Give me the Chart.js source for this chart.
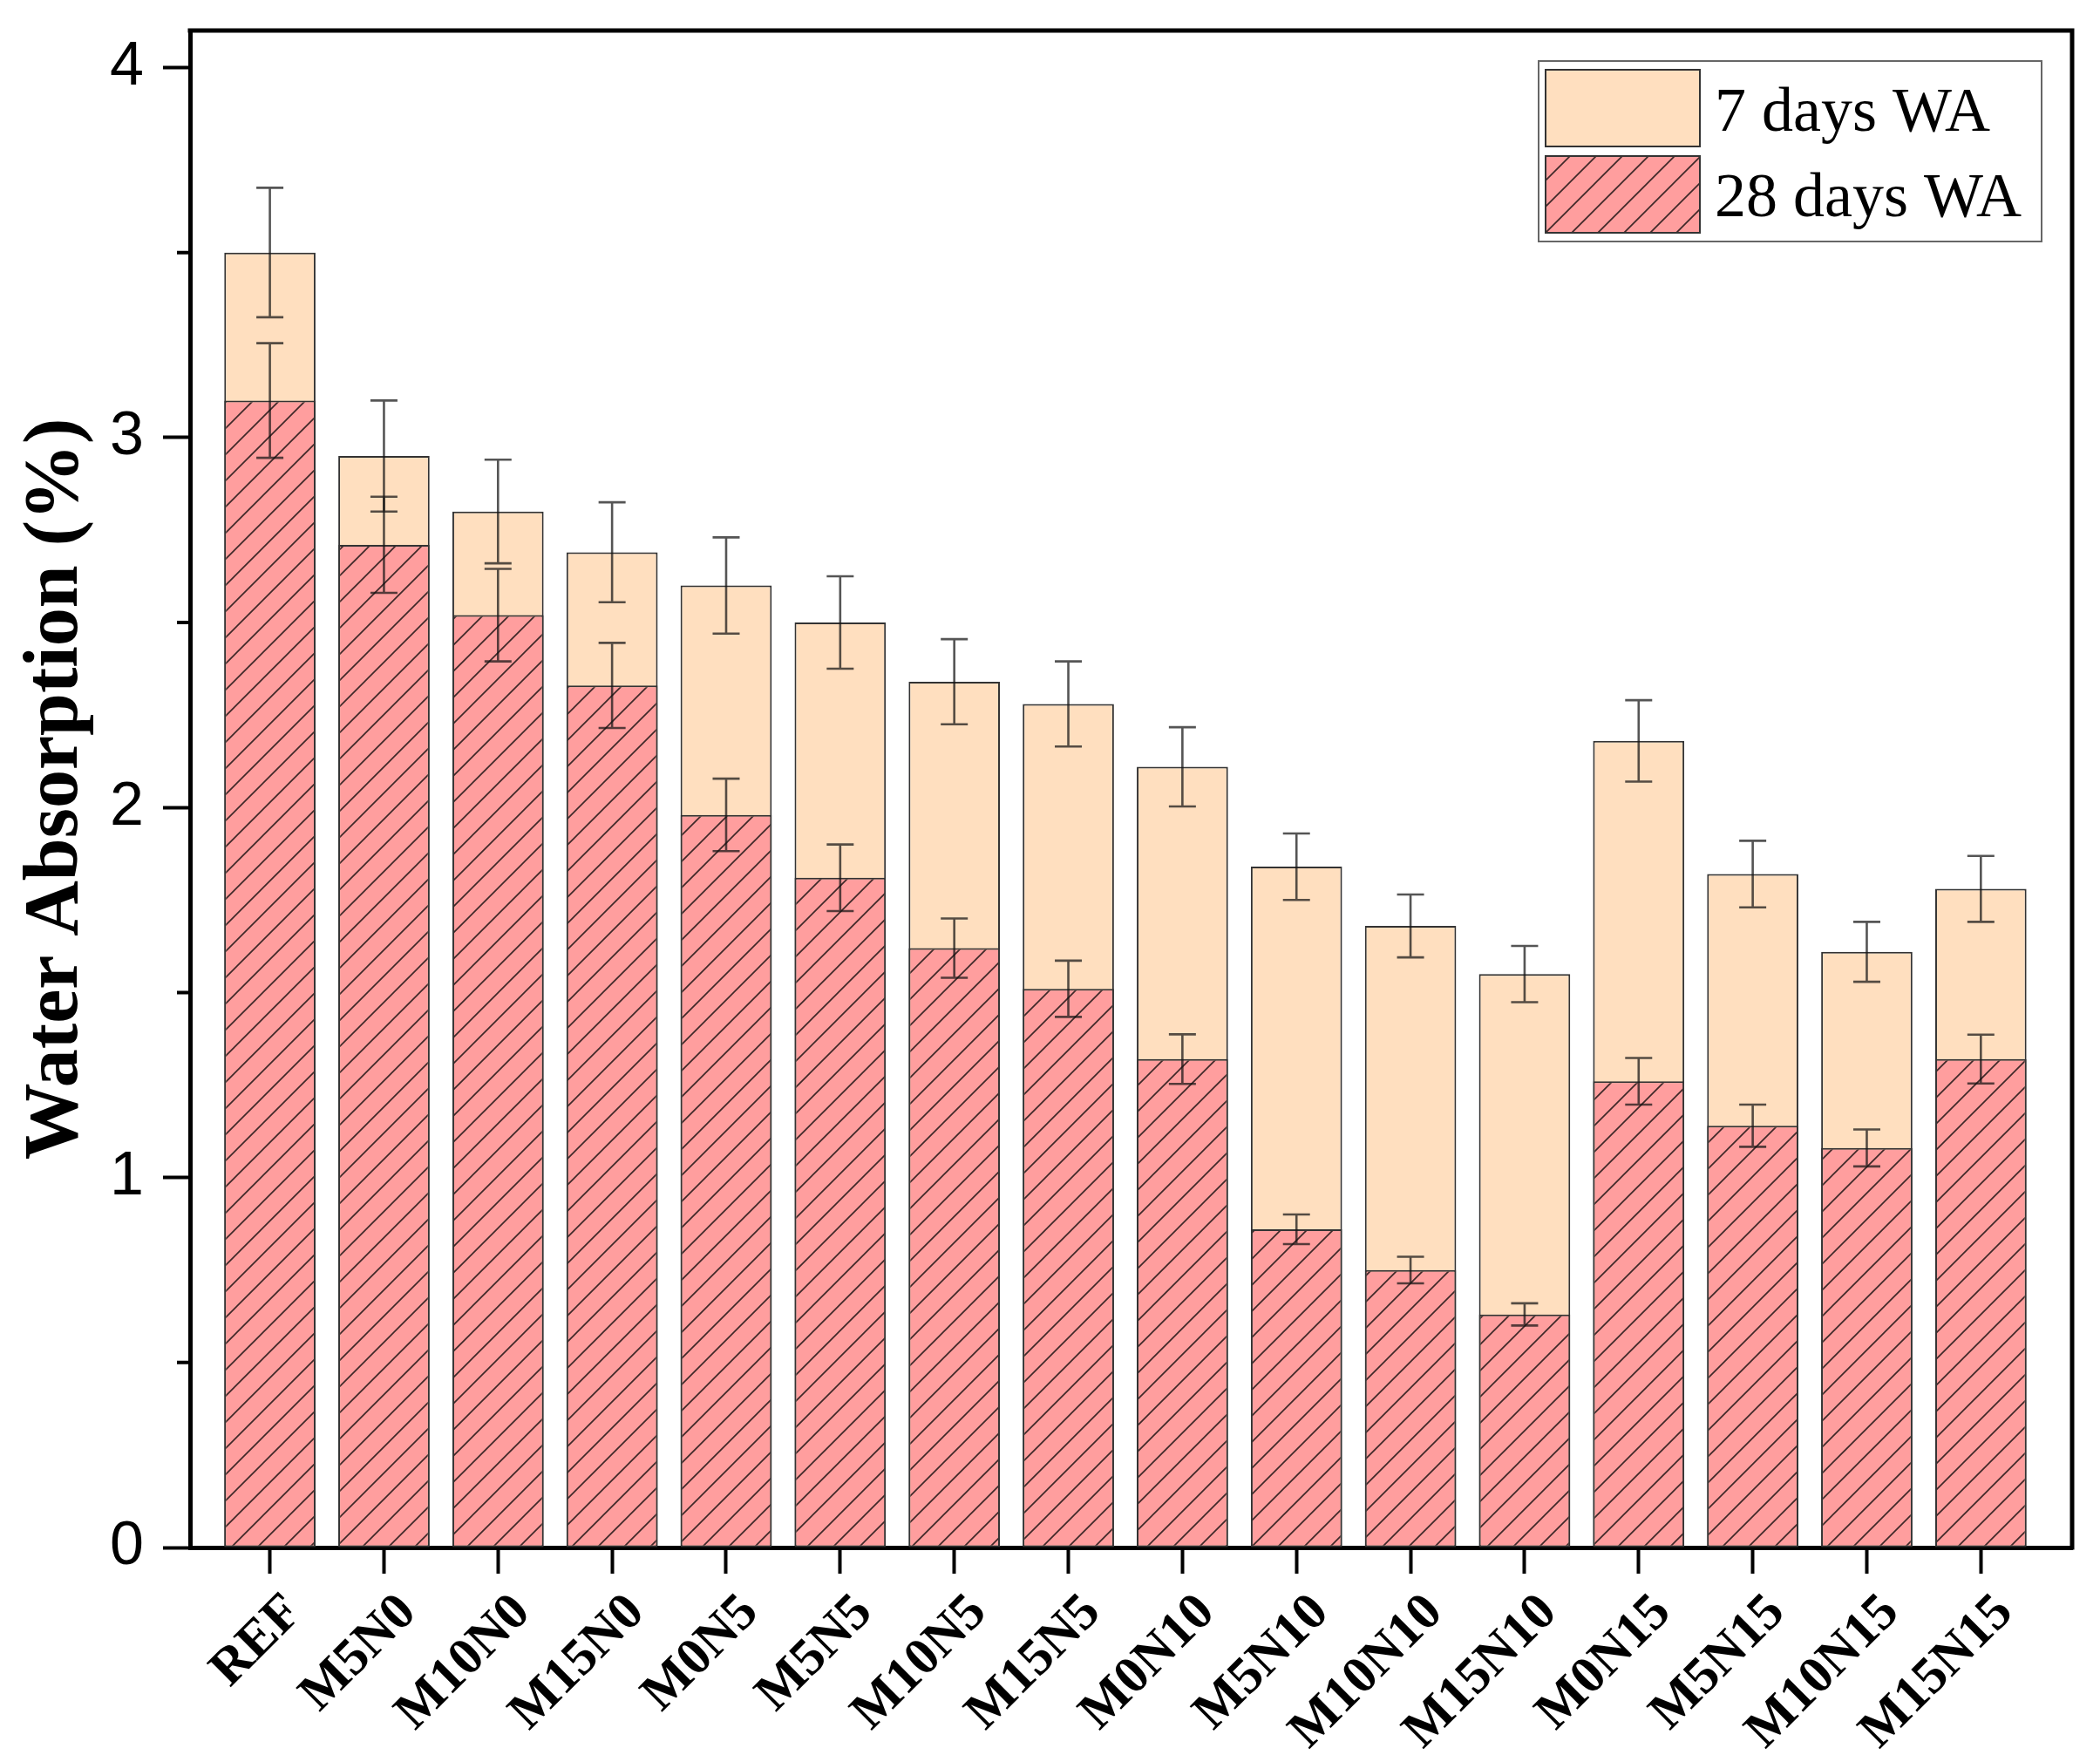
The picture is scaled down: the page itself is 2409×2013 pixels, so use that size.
<!DOCTYPE html>
<html>
<head>
<meta charset="utf-8">
<script src="https://cdn.jsdelivr.net/npm/chart.js@4.4.1/dist/chart.umd.min.js"></script>
<style>
  html, body { margin: 0; padding: 0; background: #ffffff; }
  #wrap { width: 2409px; height: 2013px; }
</style>
</head>
<body>
<div id="wrap"><canvas id="c" width="2409" height="2013"></canvas></div>
<script>
// ---- data ----
const categories = ['REF','M5N0','M10N0','M15N0','M0N5','M5N5','M10N5','M15N5','M0N10','M5N10','M10N10','M15N10','M0N15','M5N15','M10N15','M15N15'];
const wa7    = [3.50, 2.95, 2.80, 2.69, 2.60, 2.50, 2.34, 2.28, 2.11, 1.84, 1.68, 1.55, 2.18, 1.82, 1.61, 1.78];
const wa7Err = [0.175, 0.15, 0.14, 0.135, 0.13, 0.125, 0.115, 0.115, 0.107, 0.09, 0.085, 0.076, 0.11, 0.09, 0.081, 0.089];
const wa28    = [3.10, 2.71, 2.52, 2.33, 1.98, 1.81, 1.62, 1.51, 1.32, 0.86, 0.75, 0.63, 1.26, 1.14, 1.08, 1.32];
const wa28Err = [0.155, 0.13, 0.125, 0.115, 0.098, 0.09, 0.08, 0.076, 0.067, 0.04, 0.036, 0.03, 0.063, 0.057, 0.05, 0.066];
const yTickValues = [0, 1, 2, 3, 4];
const seriesLabels = ['7 days WA', '28 days WA'];
const axisTitle = 'Water Absorption (%)';

// ---- styles ----
const PEACH = '#FFDFBF';
const RED = '#FF9E9E';

function makeHatch() {
  const s = 30;
  const c = document.createElement('canvas');
  c.width = s; c.height = s;
  const g = c.getContext('2d');
  g.fillStyle = RED;
  g.fillRect(0, 0, s, s);
  g.strokeStyle = 'rgba(30,20,20,0.85)';
  g.lineWidth = 1.7;
  g.beginPath();
  g.moveTo(-2, s + 2); g.lineTo(s + 2, -2);
  g.moveTo(-2, 2); g.lineTo(2, -2);
  g.moveTo(s - 2, s + 2); g.lineTo(s + 2, s - 2);
  g.stroke();
  return document.getElementById('c').getContext('2d').createPattern(c, 'repeat');
}
const hatch = makeHatch();

const errorBars = {
  id: 'errorBars',
  afterDatasetsDraw(chart) {
    const ctx = chart.ctx;
    const xs = chart.scales.x, ys = chart.scales.y;
    const sets = [[wa7, wa7Err], [wa28, wa28Err]];
    ctx.save();
    ctx.strokeStyle = 'rgba(20,20,20,0.72)';
    ctx.lineWidth = 2.6;
    sets.forEach(([vals, errs]) => {
      vals.forEach((v, i) => {
        const x = xs.getPixelForValue(i);
        const yTop = ys.getPixelForValue(v + errs[i]);
        const yBot = ys.getPixelForValue(v - errs[i]);
        ctx.beginPath();
        ctx.moveTo(x, yTop); ctx.lineTo(x, yBot);
        ctx.moveTo(x - 15.5, yTop); ctx.lineTo(x + 15.5, yTop);
        ctx.moveTo(x - 15.5, yBot); ctx.lineTo(x + 15.5, yBot);
        ctx.stroke();
      });
    });
    ctx.restore();
  }
};

const frameAndLegend = {
  id: 'frameAndLegend',
  afterDraw(chart) {
    const ctx = chart.ctx;
    const a = chart.chartArea;
    const ys = chart.scales.y;
    ctx.save();
    // top and right frame
    ctx.strokeStyle = '#000';
    ctx.lineWidth = 5;
    ctx.beginPath();
    ctx.moveTo(a.left - 2.5, a.top); ctx.lineTo(a.right, a.top); ctx.lineTo(a.right, a.bottom + 2.5);
    ctx.stroke();
    // minor y ticks
    ctx.lineWidth = 4;
    ctx.beginPath();
    for (let k = 0; k < yTickValues.length - 1; k++) {
      const v = (yTickValues[k] + yTickValues[k + 1]) / 2;
      const y = ys.getPixelForValue(v);
      ctx.moveTo(a.left - 15, y); ctx.lineTo(a.left, y);
    }
    ctx.stroke();

    // legend
    const bx = 1765, by = 70, bw = 577, bh = 207;
    ctx.fillStyle = '#fff';
    ctx.fillRect(bx, by, bw, bh);
    ctx.strokeStyle = '#666';
    ctx.lineWidth = 2;
    ctx.strokeRect(bx, by, bw, bh);
    const fills = [PEACH, hatch];
    const rows = [{y: 80, base: 150}, {y: 179, base: 248}];
    chart.data.datasets.forEach((ds, i) => {
      const r = rows[i];
      ctx.fillStyle = fills[i];
      ctx.fillRect(1773, r.y, 177, 88);
      ctx.strokeStyle = '#333';
      ctx.lineWidth = 2;
      ctx.strokeRect(1773, r.y, 177, 88);
      ctx.fillStyle = '#000';
      ctx.font = '72px "Liberation Serif"';
      ctx.textAlign = 'left';
      ctx.textBaseline = 'alphabetic';
      ctx.fillText(ds.label, 1967, r.base);
    });
    ctx.restore();
  }
};

new Chart(document.getElementById('c'), {
  type: 'bar',
  data: {
    datasets: [
      {
        label: seriesLabels[0],
        data: wa7.map((v, i) => ({x: i, y: v})),
        backgroundColor: PEACH,
        borderColor: '#333',
        borderWidth: 2,
        borderSkipped: false,
        grouped: false,
        order: 2
      },
      {
        label: seriesLabels[1],
        data: wa28.map((v, i) => ({x: i, y: v})),
        backgroundColor: hatch,
        borderColor: '#333',
        borderWidth: 2,
        borderSkipped: false,
        grouped: false,
        order: 1
      }
    ]
  },
  options: {
    responsive: false,
    animation: false,
    devicePixelRatio: 1,
    barPercentage: 0.8,
    categoryPercentage: 1.0,
    layout: { padding: { top: 35, right: 32, left: 0, bottom: 0 } },
    plugins: { legend: { display: false }, tooltip: { enabled: false } },
    scales: {
      x: {
        type: 'linear',
        min: -0.70,
        max: 15.80,
        offset: false,
        z: 1,
        afterFit(s) { s.height = 238; s.paddingLeft = 0; s.paddingRight = 0; },
        grid: { display: true, offset: false, drawOnChartArea: false, drawTicks: true, tickLength: 30, tickWidth: 4, tickColor: '#000' },
        border: { display: true, width: 5, color: '#000' },
        ticks: {
          stepSize: 1,
          includeBounds: false,
          autoSkip: false,
          maxRotation: 45,
          minRotation: 45,
          labelOffset: 28,
          padding: 10,
          color: '#000',
          font: { family: '"Liberation Serif"', size: 60, weight: 'bold' },
          callback: (v) => categories[v] !== undefined ? categories[v] : ''
        }
      },
      y: {
        type: 'linear',
        min: 0,
        max: 4.1,
        z: 1,
        afterFit(s) { s.width = 218; s.paddingTop = 0; s.paddingBottom = 0; },
        grid: { display: true, drawOnChartArea: false, drawTicks: true, tickLength: 31, tickWidth: 4, tickColor: '#000' },
        border: { display: true, width: 5, color: '#000' },
        ticks: {
          stepSize: 1,
          includeBounds: false,
          padding: 22,
          color: '#000',
          font: { family: '"Liberation Sans"', size: 70 },
          callback: (v) => yTickValues.includes(v) ? String(v) : ''
        },
        title: {
          display: true,
          text: axisTitle,
          color: '#000',
          padding: { top: 12, bottom: 0 },
          font: { family: '"Liberation Serif"', size: 88, weight: 'bold' }
        }
      }
    }
  },
  plugins: [errorBars, frameAndLegend]
});
</script>
</body>
</html>
